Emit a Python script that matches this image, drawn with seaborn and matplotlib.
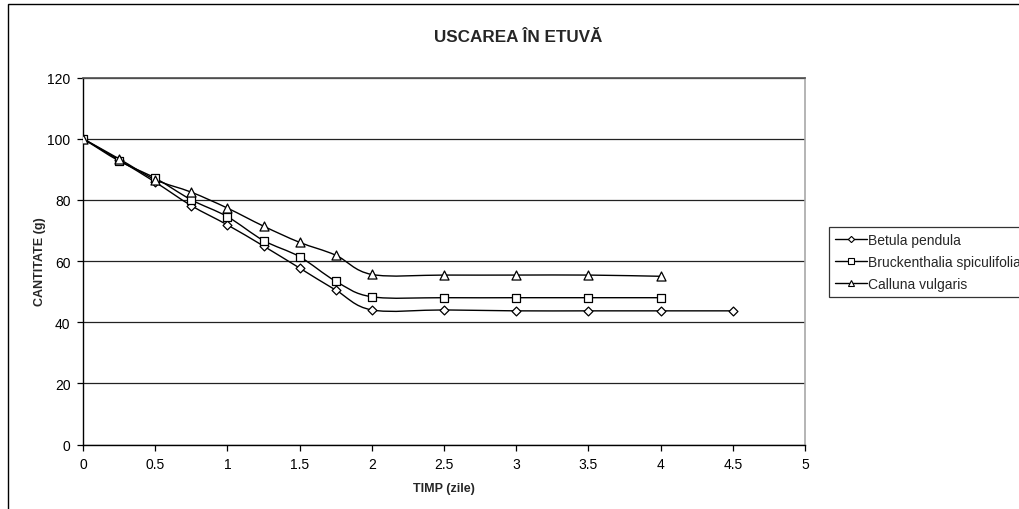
import numpy as np
import pandas as pd
import seaborn as sns
import matplotlib
matplotlib.use("Agg")
import matplotlib.pyplot as plt
from matplotlib.path import Path
from matplotlib.patches import PathPatch, Rectangle
from matplotlib.lines import Line2D

# Drying data: mass (g) over time (days)
days_betula = [0, 0.25, 0.5, 0.75, 1, 1.25, 1.5, 1.75, 2, 2.5, 3, 3.5, 4, 4.5]
betula = [100, 93.0, 85.8, 78.1, 71.8, 64.9, 57.7, 50.5, 44.0, 44.0, 43.7, 43.7, 43.7, 43.7]

days_bruck = [0, 0.25, 0.5, 0.75, 1, 1.25, 1.5, 1.75, 2, 2.5, 3, 3.5, 4]
bruck = [100, 92.7, 87.1, 80.0, 74.5, 66.7, 61.4, 53.4, 48.3, 48.0, 48.0, 48.0, 48.0]

days_calluna = [0, 0.25, 0.5, 0.75, 1, 1.25, 1.5, 1.75, 2, 2.5, 3, 3.5, 4]
calluna = [100, 93.4, 86.6, 82.5, 77.3, 71.4, 66.1, 61.9, 55.6, 55.4, 55.4, 55.4, 55.0]

series_names = ["Betula pendula", "Bruckenthalia spiculifolia", "Calluna vulgaris"]
series_markers = {"Betula pendula": "D", "Bruckenthalia spiculifolia": "s", "Calluna vulgaris": "^"}
marker_sizes = {"D": 4.5, "s": 5.5, "^": 6.5}

x_ticks = [0, 0.5, 1, 1.5, 2, 2.5, 3, 3.5, 4, 4.5, 5]
x_tick_labels = ["0", "0.5", "1", "1.5", "2", "2.5", "3", "3.5", "4", "4.5", "5"]
y_ticks = [0, 20, 40, 60, 80, 100, 120]

df = pd.concat([
    pd.DataFrame({"zile": days_betula, "g": betula, "specie": series_names[0]}),
    pd.DataFrame({"zile": days_bruck, "g": bruck, "specie": series_names[1]}),
    pd.DataFrame({"zile": days_calluna, "g": calluna, "specie": series_names[2]}),
], ignore_index=True)

sns.set_theme(style="white")
plt.rcParams["font.family"] = ["Liberation Sans", "DejaVu Sans"]

fig = plt.figure(figsize=(10.19, 5.10), dpi=100)
W, H = 1019, 510
ax = fig.add_axes([83 / W, 1 - 445.5 / H, (805 - 83) / W, (445.5 - 78.5) / H])


def smooth_path(xs, ys):
    """Cubic Bezier through the points (Catmull-Rom style smoothing)."""
    pts = np.column_stack([xs, ys]).astype(float)
    n = len(pts)
    verts = [pts[0]]
    codes = [Path.MOVETO]
    for i in range(n - 1):
        p0 = pts[i - 1] if i > 0 else pts[i]
        p1 = pts[i]
        p2 = pts[i + 1]
        p3 = pts[i + 2] if i + 2 < n else pts[i + 1]
        c1 = p1 + (p2 - p0) / 6.0
        c2 = p2 - (p3 - p1) / 6.0
        verts += [c1, c2, p2]
        codes += [Path.CURVE4] * 3
    return Path(verts, codes)


for name in series_names:
    sub = df[df["specie"] == name]
    ax.add_patch(PathPatch(smooth_path(sub["zile"].values, sub["g"].values),
                           facecolor="none", edgecolor="black", lw=1.0, zorder=2))
    m = series_markers[name]
    sns.scatterplot(data=sub, x="zile", y="g", marker=m, s=marker_sizes[m] ** 2,
                    color="white", edgecolor="black", linewidth=0.9, ax=ax,
                    zorder=3, legend=False)

ax.set_xlim(0, 5)
ax.set_ylim(0, 120)
ax.set_xticks(x_ticks)
ax.set_xticklabels(x_tick_labels)
ax.set_yticks(y_ticks)
ax.yaxis.grid(True, color="#222222", lw=0.9)
ax.xaxis.grid(False)
ax.set_axisbelow(True)

for side in ["left", "bottom"]:
    ax.spines[side].set_color("black")
    ax.spines[side].set_linewidth(1.0)
ax.spines["top"].set_color("#555555")
ax.spines["right"].set_color("#a8a8a8")
ax.spines["right"].set_linewidth(1.2)

ax.tick_params(axis="both", which="major", direction="out", length=4, width=0.9,
               color="black", labelsize=10, labelcolor="black", pad=5,
               bottom=True, left=True)
ax.set_xlabel("TIMP (zile)", fontsize=9, fontweight="bold", labelpad=8)
ax.set_ylabel("CANTITATE (g)", fontsize=9, fontweight="bold", labelpad=1)

fig.text(518 / W, 1 - 37 / H, "USCAREA ÎN ETUVĂ", ha="center", va="center",
         fontsize=12.3, fontweight="bold")

handles = [Line2D([0], [0], color="black", lw=1.0, marker=series_markers[n],
                  markersize=marker_sizes[series_markers[n]] * 0.7,
                  markerfacecolor="white", markeredgecolor="black",
                  markeredgewidth=0.8) for n in series_names]
leg = fig.legend(handles, series_names, loc="upper left",
                 bbox_to_anchor=(829 / W, 1 - 228 / H), fontsize=10,
                 frameon=True, fancybox=False, handlelength=2.3,
                 handletextpad=0.05, borderpad=0.45, labelspacing=0.55,
                 borderaxespad=0)
leg.get_frame().set_edgecolor("black")
leg.get_frame().set_linewidth(0.9)

# Chart area border (left and top edges visible)
fig.patches.append(Rectangle((8 / W, -0.1), 1.2, 1 - 5 / H + 0.1,
                             transform=fig.transFigure, facecolor="none",
                             edgecolor="black", lw=1.0))

fig.savefig("out.png", dpi=100)
